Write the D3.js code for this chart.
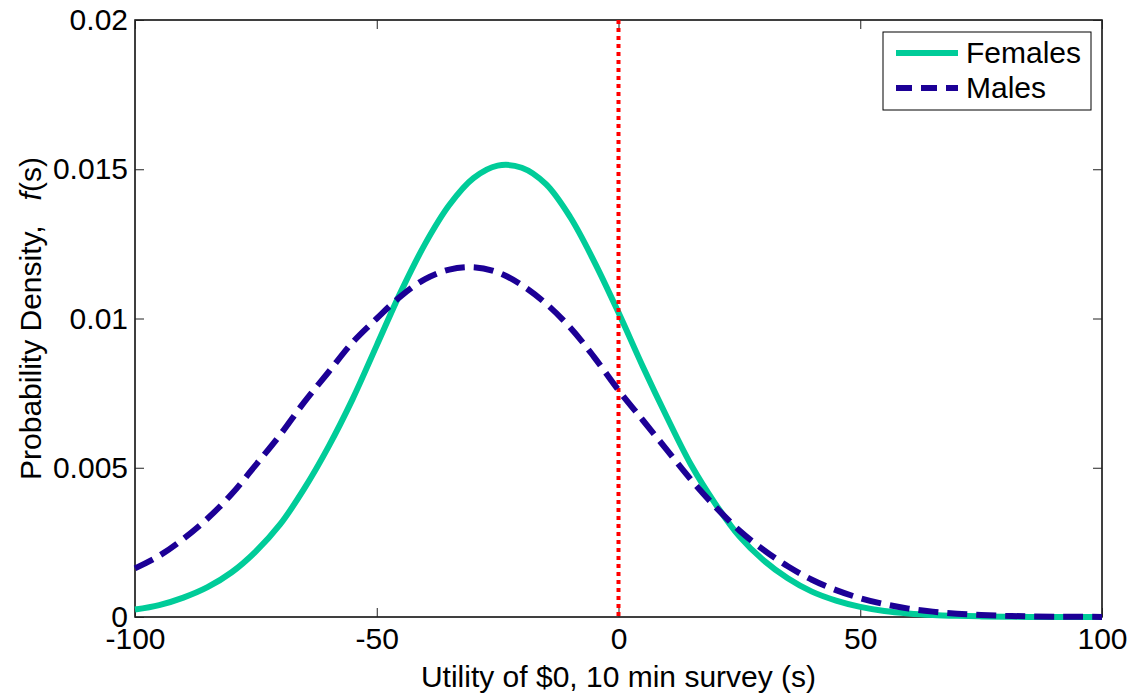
<!DOCTYPE html>
<html>
<head>
<meta charset="utf-8">
<script src="https://cdn.jsdelivr.net/npm/d3@7"></script>
<style>
  html, body { margin: 0; padding: 0; background: #fff; }
  svg { display: block; font-family: "Liberation Sans", Arial, Helvetica, sans-serif; }
</style>
</head>
<body>
<svg id="chart"></svg>
<script>
// values
const xs = [-100, -95, -90, -85, -80, -75, -70, -65, -60, -55, -50, -45, -40, -35, -30, -25, -20, -15, -10, -5,
            0, 5, 10, 15, 20, 25, 30, 35, 40, 45, 50, 55, 60, 65, 70, 75, 80, 85, 90, 95, 100];
const females = [0.00025, 0.0004, 0.00065, 0.0010, 0.0015, 0.0022, 0.0031, 0.0043, 0.0057, 0.0073, 0.0091,
                 0.0109, 0.0125, 0.0138, 0.0147, 0.01512, 0.01505, 0.0145, 0.0134, 0.0119,
                 0.0102, 0.0084, 0.0067, 0.0051, 0.0038, 0.0027, 0.0019, 0.0013, 0.00085, 0.00055,
                 0.00034, 0.0002, 0.00012, 0.00007, 0.00004, 0.00002, 0.00001, 0, 0, 0, 0];
const males = [0.00163, 0.00205, 0.00262, 0.0033, 0.00412, 0.0051, 0.0061, 0.0072, 0.0082, 0.0092, 0.0100,
               0.01075, 0.01132, 0.01164, 0.01172, 0.01155, 0.01112, 0.0105, 0.0097, 0.0087,
               0.0076, 0.0066, 0.0056, 0.0046, 0.0037, 0.0029, 0.00225, 0.0017, 0.00125, 0.0009,
               0.00063, 0.00043, 0.00028, 0.00018, 0.00011, 0.00007, 0.00004, 0.00002, 0.00001, 0.00001, 0];
const xTicks = [-100, -50, 0, 50, 100];
const yTicks = [0, 0.005, 0.01, 0.015, 0.02];
const seriesNames = ["Females", "Males"];
const refLineX = 0;

const width = 1140, height = 694;
const plot = { left: 135, right: 1102, top: 20, bottom: 617 };
const femaleColor = "#00cc99";
const maleColor = "#1c0096";
const fontSize = "30px";

const svg = d3.select("#chart").attr("width", width).attr("height", height);

const x = d3.scaleLinear().domain([-100, 100]).range([plot.left, plot.right]);
const y = d3.scaleLinear().domain([0, 0.02]).range([plot.bottom, plot.top]);

// box
svg.append("rect")
    .attr("x", plot.left).attr("y", plot.top)
    .attr("width", plot.right - plot.left).attr("height", plot.bottom - plot.top)
    .attr("fill", "none").attr("stroke", "#000").attr("stroke-width", 1.5);

// axes, ticks pointing inward like matlab
const styleAxis = g => {
    g.select(".domain").remove();
    g.selectAll("line").attr("stroke", "#222").attr("stroke-width", 1);
    g.selectAll("text").attr("fill", "#000").style("font-size", fontSize);
};

svg.append("g")
    .attr("transform", `translate(0, ${plot.bottom})`)
    .call(d3.axisBottom(x).tickValues(xTicks).tickFormat(d => String(d)).tickSizeInner(-9).tickSizeOuter(0).tickPadding(11))
    .call(styleAxis);
svg.append("g")
    .attr("transform", `translate(0, ${plot.top})`)
    .call(d3.axisTop(x).tickValues(xTicks).tickFormat("").tickSizeInner(-9).tickSizeOuter(0))
    .call(styleAxis);
svg.append("g")
    .attr("transform", `translate(${plot.left}, 0)`)
    .call(d3.axisLeft(y).tickValues(yTicks).tickFormat(d => String(d)).tickSizeInner(-9).tickSizeOuter(0).tickPadding(7))
    .call(styleAxis);
svg.append("g")
    .attr("transform", `translate(${plot.right}, 0)`)
    .call(d3.axisRight(y).tickValues(yTicks).tickFormat("").tickSizeInner(-9).tickSizeOuter(0))
    .call(styleAxis);

// curves
const densityLine = d3.line()
    .x((d, i) => x(xs[i]))
    .y(d => y(d))
    .curve(d3.curveCatmullRom.alpha(0.5));

svg.append("path")
    .datum(females)
    .attr("d", densityLine)
    .attr("fill", "none")
    .attr("stroke", femaleColor)
    .attr("stroke-width", 6);

svg.append("line")
    .attr("x1", x(refLineX)).attr("x2", x(refLineX))
    .attr("y1", plot.top).attr("y2", plot.bottom)
    .attr("stroke", "#ff0000")
    .attr("stroke-width", 4)
    .attr("stroke-dasharray", "4,4");

svg.append("path")
    .datum(males)
    .attr("d", densityLine)
    .attr("fill", "none")
    .attr("stroke", maleColor)
    .attr("stroke-width", 6)
    .attr("stroke-dasharray", "20,9");

// axis labels
svg.append("text")
    .attr("x", (plot.left + plot.right) / 2)
    .attr("y", 687)
    .attr("text-anchor", "middle")
    .style("font-size", fontSize)
    .text("Utility of $0, 10 min survey (s)");

const yLabel = svg.append("text")
    .attr("transform", `translate(41, ${(plot.top + plot.bottom) / 2}) rotate(-90)`)
    .attr("text-anchor", "middle")
    .style("font-size", fontSize)
    .attr("xml:space", "preserve");
yLabel.append("tspan").text("Probability Density,   ");
yLabel.append("tspan").style("font-style", "italic").text("f");
yLabel.append("tspan").text("(s)");

// legend
const legend = svg.append("g");
legend.append("rect")
    .attr("x", 883).attr("y", 32)
    .attr("width", 208).attr("height", 78)
    .attr("fill", "#fff").attr("stroke", "#000").attr("stroke-width", 1);

const legendColors = [femaleColor, maleColor];
const legendDash = [null, "16,9"];
seriesNames.forEach((name, i) => {
    const yPos = 53 + i * 35;
    legend.append("line")
        .attr("x1", 896).attr("x2", 958)
        .attr("y1", yPos).attr("y2", yPos)
        .attr("stroke", legendColors[i])
        .attr("stroke-width", 6)
        .attr("stroke-dasharray", legendDash[i]);
    legend.append("text")
        .attr("x", 966).attr("y", yPos + 10)
        .style("font-size", fontSize)
        .text(name);
});
</script>
</body>
</html>
